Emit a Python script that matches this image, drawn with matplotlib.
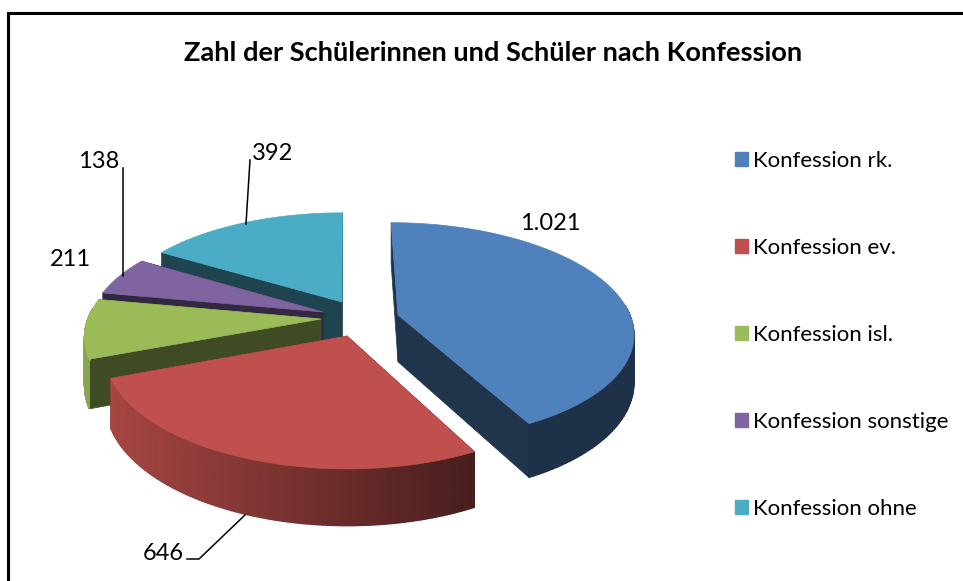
import numpy as np
from matplotlib import pyplot as plt
from matplotlib.colors import LinearSegmentedColormap
from matplotlib.patches import Patch

# data
categories = ['Konfession rk.', 'Konfession ev.', 'Konfession isl.', 'Konfession sonstige', 'Konfession ohne']
values = [1021, 646, 211, 138, 392]
colors = ['#4F81BD', '#C0504D', '#9BBB59', '#8064A2', '#4BACC6']
title = 'Zahl der Schülerinnen und Schüler nach Konfession'

# pie camera, all in pixels of the picture
cx, cy = 345, 318
Rx, Ry = 233, 107
p = 0.15
H = 47
# where the tip of every slice ends up after it is pulled out
tips = [(398, 315), (347, 336), (321, 319), (323, 312), (342, 302)]
draw_order = [4, 3, 2, 0, 1]

plt.rcParams['font.family'] = ['Lato', 'DejaVu Sans']


def project(X, Y, z=0):
    w = 1 + p*Y
    return cx + Rx*X/w, cy - Ry*Y/w + z*H/w


def unproject(sx, sy):
    t = (cy - sy)/Ry
    Y = t/(1 - p*t)
    return (sx - cx)*(1 + p*Y)/Rx, Y


def shade(col, f):
    rgb = np.array(plt.matplotlib.colors.to_rgb(col))
    return tuple(rgb*f)


fig = plt.figure(figsize=(9.63, 5.81), dpi=100)
ax = fig.add_axes([0, 0, 1, 1])
ax.set_xlim(0, 963)
ax.set_ylim(581, 0)
ax.axis('off')

edges = np.cumsum([0] + values)/sum(values)*2*np.pi

for i in draw_order:
    X0, Y0 = unproject(*tips[i])
    ang = np.linspace(edges[i], edges[i+1], 120)
    X = X0 + np.sin(ang)
    Y = Y0 + np.cos(ang)
    sx, sy = project(X, Y)
    bx, by = project(X, Y, 1)
    tx, ty = project(X0, Y0)
    tbx, tby = project(X0, Y0, 1)
    dark = shade(colors[i], 0.4)
    # the two cut faces
    for k in (0, -1):
        ax.fill([tx, sx[k], bx[k], tbx], [ty, sy[k], by[k], tby], color=dark, lw=0.5, zorder=1)
    # outer wall, only the part that faces the viewer
    front = np.cos(ang) < 0.1
    if front.sum() > 1:
        f = np.interp(sx[front], [100, 470], [0.88, 0.38])
        cmap = LinearSegmentedColormap.from_list('wall', ['black', colors[i]])
        ax.pcolormesh(np.array([sx[front], bx[front]]), np.array([sy[front], by[front]]),
                      np.array([f, f]), cmap=cmap, vmin=0, vmax=1, shading='gouraud', zorder=1)
    ax.fill(np.r_[tx, sx], np.r_[ty, sy], color=colors[i], lw=0.5, zorder=1)

# chart frame, right and bottom are cut off in the picture
ax.plot([7.5, 7.5, 963], [581, 12.5, 12.5], color='black', lw=2.2, solid_joinstyle='miter', zorder=3)

ax.text(493, 53, title, fontsize=19.6, fontweight='bold', ha='center', va='center')

# value labels with their leader lines
labels = [f'{v:,}'.replace(',', '.') for v in values]
label_pos = [(550, 223), (163, 553), (70, 259), (99, 162), (273, 154)]
for s, (x, y) in zip(labels, label_pos):
    ax.text(x, y, s, fontsize=17, ha='center', va='center')
ax.plot([250, 246], [160, 224], color='black', lw=1.1)
ax.plot([122.5, 122.5], [168, 276], color='black', lw=1.1)
ax.plot([187, 199, 245], [559, 559, 515], color='black', lw=1.1)

handles = [Patch(color=c, label=n) for c, n in zip(colors, categories)]
ax.legend(handles=handles, loc='upper left', bbox_to_anchor=(735/963, 1 - 151/581), frameon=False,
          fontsize=16, handlelength=0.6, handleheight=0.6, handletextpad=0.22,
          labelspacing=3.01, borderpad=0, borderaxespad=0)

plt.savefig('out.png', dpi=100)
